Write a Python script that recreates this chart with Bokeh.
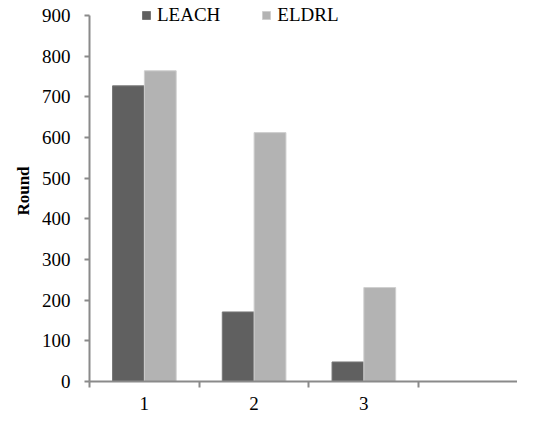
from bokeh.plotting import figure
from bokeh.models import Range1d, FixedTicker, Legend, LegendItem, ColumnDataSource
from bokeh.embed import file_html
from bokeh.resources import INLINE

# Data
categories = [1, 2, 3]
category_labels = ["1", "2", "3"]
category_bounds = [0.5, 1.5, 2.5, 3.5]
leach = [727, 171, 48]
eldrl = [764, 612, 231]
y_ticks = [0, 100, 200, 300, 400, 500, 600, 700, 800, 900]
y_max = 900

FONT = "Liberation Serif"
AXIS_COLOR = "#8a8a8a"
DARK = "#606060"
LIGHT = "#b3b3b3"
BAR_W = 0.29

# frame spans canvas 0..381 px; leave 15 px of headroom above the 900 tick
plot_h = 381.0
y_end = y_max * plot_h / (plot_h - 15)

p = figure(width=517, height=413, output_backend="svg", toolbar_location=None,
           x_range=Range1d(0.5, 4.40), y_range=Range1d(0, y_end),
           min_border_left=89, min_border_right=0, min_border_top=0, min_border_bottom=32)
p.xgrid.visible = False
p.ygrid.visible = False
p.outline_line_color = None
p.background_fill_color = "white"
p.border_fill_color = "white"

src = ColumnDataSource(dict(
    x1=[c - BAR_W / 2 for c in categories],
    x2=[c + BAR_W / 2 for c in categories],
    leach=leach, eldrl=eldrl))

r1 = p.vbar(x="x1", top="leach", bottom=0, width=BAR_W, source=src,
            fill_color=DARK, line_color="#777777", line_width=1)
r2 = p.vbar(x="x2", top="eldrl", bottom=0, width=BAR_W, source=src,
            fill_color=LIGHT, line_color="#cfcfcf", line_width=1)

# y axis
ya = p.yaxis[0]
ya.ticker = FixedTicker(ticks=y_ticks)
ya.bounds = (0, y_max)
ya.axis_line_color = AXIS_COLOR
ya.axis_line_width = 2
ya.major_tick_line_color = AXIS_COLOR
ya.major_tick_line_width = 2
ya.major_tick_out = 5
ya.major_tick_in = 0
ya.minor_tick_line_color = None
ya.major_label_standoff = 14
ya.major_label_text_font = FONT
ya.major_label_text_font_size = "19px"
ya.major_label_text_color = "black"
ya.axis_label = "Round"
ya.axis_label_text_font = FONT
ya.axis_label_text_font_style = "bold"
ya.axis_label_text_font_size = "17px"
ya.axis_label_text_color = "black"
ya.axis_label_standoff = 6

# x axis: labels at category centres, ticks at category boundaries
xa = p.xaxis[0]
xa.ticker = FixedTicker(ticks=categories, minor_ticks=category_bounds)
xa.major_label_overrides = {c: l for c, l in zip(categories, category_labels)}
xa.axis_line_color = AXIS_COLOR
xa.axis_line_width = 2
xa.major_tick_line_color = None
xa.major_tick_out = 0
xa.major_tick_in = 0
xa.minor_tick_line_color = AXIS_COLOR
xa.minor_tick_line_width = 2
xa.minor_tick_out = 6
xa.minor_tick_in = 0
xa.major_label_standoff = 9
xa.major_label_text_font = FONT
xa.major_label_text_font_size = "19px"
xa.major_label_text_line_height = 0.7
xa.major_label_text_color = "black"

legend = Legend(items=[LegendItem(label="LEACH", renderers=[r1]),
                       LegendItem(label="ELDRL", renderers=[r2])],
                orientation="horizontal", location=(52, 355),
                border_line_color=None, background_fill_alpha=0,
                padding=0, margin=0, spacing=41, label_standoff=6,
                glyph_width=10, glyph_height=10,
                label_text_font=FONT, label_text_font_size="19px",
                label_text_color="black")
p.add_layout(legend, "center")

open("out.html", "w").write(file_html(p, INLINE))
